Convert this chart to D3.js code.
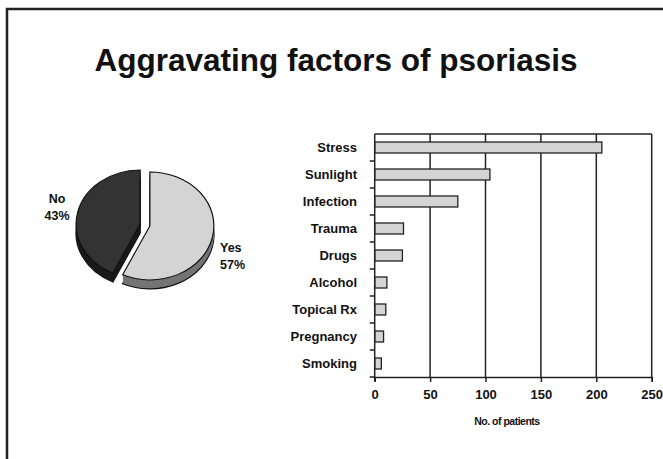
<!doctype html>
<html>
<head>
	<meta charset="utf-8">
	<script src="https://cdnjs.cloudflare.com/ajax/libs/d3/7.8.5/d3.min.js"></script>
	<style>
		body { margin: 0; background: #fff; }
		text { font-family: "Liberation Sans", Arial, sans-serif; font-weight: bold; fill: #111; }
	</style>
</head>
<body>
	<script>
		// chart data
		var factors = ["Stress", "Sunlight", "Infection", "Trauma", "Drugs", "Alcohol", "Topical Rx", "Pregnancy", "Smoking"];
		var patients = [205, 104, 75, 26, 25, 11, 10, 8, 6];
		var xTicks = [0, 50, 100, 150, 200, 250];
		var pieLabels = ["Yes", "No"];
		var pieValues = [57, 43];

		var W = 663, H = 459;

		var svg = d3.select("body")
			.append("svg")
				.attr("width", W)
				.attr("height", H);

		// slide frame (runs off the right and bottom)
		svg.append("rect")
			.attr("x", 7)
			.attr("y", 9)
			.attr("width", W + 20)
			.attr("height", H + 20)
			.style("fill", "none")
			.style("stroke", "#222")
			.style("stroke-width", 2.5);

		// title
		svg.append("text")
			.attr("x", 336)
			.attr("y", 71)
			.attr("text-anchor", "middle")
			.style("font-size", "31.5px")
			.text("Aggravating factors of psoriasis");

		// ---------- bar chart ----------
		var plot = {left: 374.7, right: 651.7, top: 134, bottom: 377};

		var xScale = d3.scaleLinear().domain([0, 250]).range([plot.left, plot.right]);
		var yScale = d3.scaleBand().domain(factors).range([plot.top, plot.bottom]);
		var barH = 11;

		// grid lines
		svg.append("g")
			.selectAll("line")
			.data(xTicks.slice(1))
			.enter()
			.append("line")
				.attr("x1", d => xScale(d))
				.attr("x2", d => xScale(d))
				.attr("y1", plot.top)
				.attr("y2", plot.bottom)
				.style("stroke", "#222")
				.style("stroke-width", 1.5);

		// top line of plot
		svg.append("line")
			.attr("x1", plot.left).attr("x2", plot.right)
			.attr("y1", plot.top).attr("y2", plot.top)
			.style("stroke", "#222")
			.style("stroke-width", 1.5);

		// bars
		svg.append("g")
			.selectAll("rect")
			.data(factors)
			.enter()
			.append("rect")
				.attr("x", xScale(0))
				.attr("y", d => yScale(d) + (yScale.step() - barH) / 2)
				.attr("width", (d, i) => xScale(patients[i]) - xScale(0))
				.attr("height", barH)
				.style("fill", "#d4d4d4")
				.style("stroke", "#222")
				.style("stroke-width", 1.3);

		// x axis
		var xAxis = svg.append("g")
			.attr("transform", "translate(0," + plot.bottom + ")")
			.call(d3.axisBottom(xScale).tickValues(xTicks).tickSize(5).tickPadding(8));
		xAxis.select(".domain").style("stroke", "#222").style("stroke-width", 1.5);
		xAxis.selectAll(".tick line").style("stroke", "#222").style("stroke-width", 1.5);
		xAxis.selectAll(".tick text")
			.style("font-size", "13px")
			.style("font-family", "'Liberation Sans', Arial, sans-serif")
			.style("font-weight", "bold")
			.style("fill", "#111");

		svg.append("text")
			.attr("x", 507)
			.attr("y", 425)
			.attr("text-anchor", "middle")
			.style("font-size", "10.5px")
			.style("letter-spacing", "-0.5px")
			.text("No. of patients");

		// y axis line and boundary ticks
		svg.append("line")
			.attr("x1", plot.left).attr("x2", plot.left)
			.attr("y1", plot.top).attr("y2", plot.bottom + 4)
			.style("stroke", "#222")
			.style("stroke-width", 1.5);

		svg.append("g")
			.selectAll("line")
			.data(factors.slice(1).concat(["end"]))
			.enter()
			.append("line")
				.attr("x1", plot.left - 5)
				.attr("x2", plot.left)
				.attr("y1", d => d == "end" ? plot.bottom : yScale(d))
				.attr("y2", d => d == "end" ? plot.bottom : yScale(d))
				.style("stroke", "#222")
				.style("stroke-width", 1.5);

		// category labels
		svg.append("g")
			.selectAll("text")
			.data(factors)
			.enter()
			.append("text")
				.attr("x", 357)
				.attr("y", d => yScale(d) + yScale.step() / 2 + 4.5)
				.attr("text-anchor", "end")
				.style("font-size", "13px")
				.text(d => d);

		// ---------- 3d pie ----------
		var cx = 145, cy = 225, rx = 64, ry = 54, depth = 9, explode = 5;
		var topColor = {"Yes": "#d4d4d4", "No": "#333333"};
		var sideColor = {"Yes": "#747474", "No": "#1a1a1a"};

		var pie = d3.pie().sort(null).value(d => d.value);
		var slices = pie(pieLabels.map((l, i) => ({label: l, value: pieValues[i]})));
		var arc = d3.arc().innerRadius(0).outerRadius(rx);

		function sliceOffset(d) {
			var a = (d.startAngle + d.endAngle) / 2;
			return [Math.sin(a) * explode, -Math.cos(a) * explode];
		}

		var pieG = svg.append("g")
			.attr("transform", "translate(" + cx + "," + cy + ")");

		// side layers
		d3.range(depth, 0, -1).forEach(function(k) {
			pieG.selectAll(null)
				.data(slices)
				.enter()
				.append("path")
					.attr("transform", function(d) {
						var o = sliceOffset(d);
						return "translate(" + o[0] + "," + (o[1] * ry / rx + k) + ") scale(1," + (ry / rx) + ")";
					})
					.attr("d", arc)
					.style("fill", d => sideColor[d.data.label])
					.style("stroke", k == depth ? "#111" : "none")
					.style("stroke-width", k == depth ? 1.2 * rx / ry : 0);
		});

		// top faces
		pieG.selectAll(null)
			.data(slices)
			.enter()
			.append("path")
				.attr("transform", function(d) {
					var o = sliceOffset(d);
					return "translate(" + o[0] + "," + (o[1] * ry / rx) + ") scale(1," + (ry / rx) + ")";
				})
				.attr("d", arc)
				.style("fill", d => topColor[d.data.label])
				.style("stroke", "#111")
				.style("stroke-width", 1.2);

		// pie labels
		var pieText = [
			{label: "No", x: 57, y: 203, anchor: "middle"},
			{label: "Yes", x: 220, y: 252, anchor: "start"}
		];
		pieText.forEach(function(p) {
			var i = pieLabels.indexOf(p.label);
			var t = svg.append("text")
				.attr("x", p.x)
				.attr("y", p.y)
				.attr("text-anchor", p.anchor)
				.style("font-size", "12.5px");
			t.append("tspan").attr("x", p.x).text(pieLabels[i]);
			t.append("tspan").attr("x", p.x).attr("dy", 17).text(pieValues[i] + "%");
		});
	</script>
</body>
</html>
